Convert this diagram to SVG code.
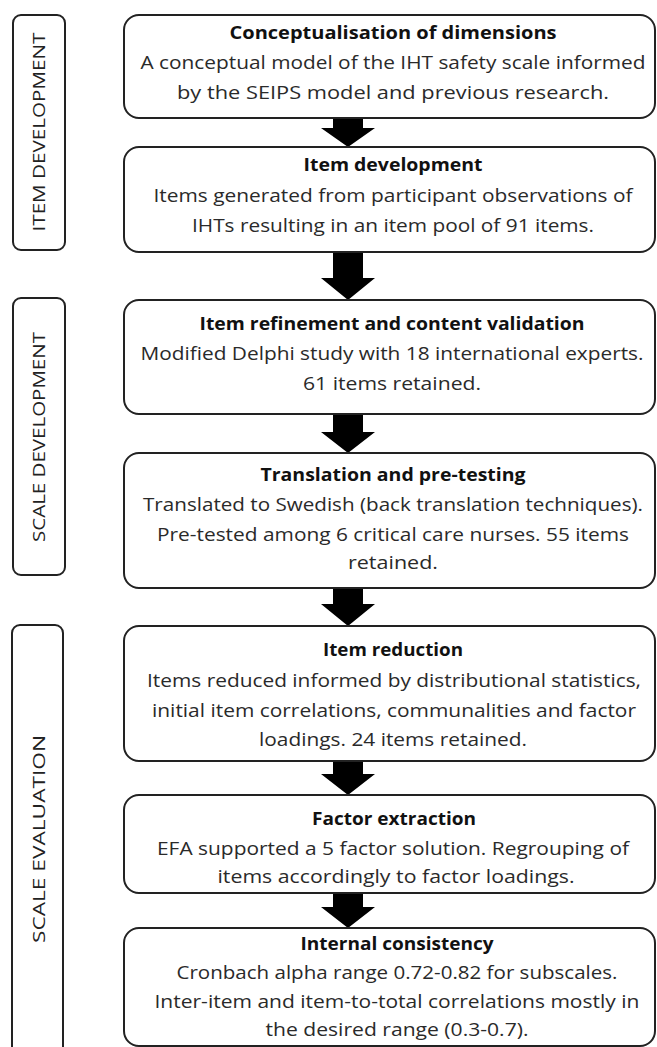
<svg xmlns="http://www.w3.org/2000/svg" width="657" height="1047" viewBox="0 0 657 1047">
<style>
.box{fill:#fff;stroke:#222;stroke-width:2}
.side{fill:#fff;stroke:#222;stroke-width:2}
.t{font-family:"Open Sans","Liberation Sans",sans-serif;font-size:18px;text-anchor:middle;fill:#2a2a2a}
.b{font-weight:bold;fill:#111}
.s{font-family:"Open Sans","Liberation Sans",sans-serif;font-size:16px;text-anchor:middle;fill:#222}
.arr{fill:#000}
</style>
<rect width="657" height="1047" fill="#fff"/>
<g id="phase-item-development">
<rect class="side" x="13" y="15" width="52" height="235" rx="8"/>
<text class="s" transform="translate(45,132) rotate(-90)" textLength="199" lengthAdjust="spacingAndGlyphs">ITEM DEVELOPMENT</text>
</g>
<g id="phase-scale-development">
<rect class="side" x="13" y="298" width="52" height="277" rx="8"/>
<text class="s" transform="translate(45,437) rotate(-90)" textLength="210" lengthAdjust="spacingAndGlyphs">SCALE DEVELOPMENT</text>
</g>
<g id="phase-scale-evaluation">
<rect class="side" x="12" y="625" width="51" height="440" rx="8"/>
<text class="s" transform="translate(45,839) rotate(-90)" textLength="208" lengthAdjust="spacingAndGlyphs">SCALE EVALUATION</text>
</g>
<g id="connectors">
<polygon class="arr" points="333,118 363,118 363,128 375,128 348,147 321,128 333,128"/>
<polygon class="arr" points="333,252 363,252 363,278 375,278 348,300 321,278 333,278"/>
<polygon class="arr" points="333,414 363,414 363,432 375,432 348,453 321,432 333,432"/>
<polygon class="arr" points="333,588 363,588 363,604 375,604 348,626 321,604 333,604"/>
<polygon class="arr" points="333,761 363,761 363,774 375,774 348,795 321,774 333,774"/>
<polygon class="arr" points="333,893 363,893 363,907 375,907 348,928 321,907 333,907"/>
</g>
<g id="conceptualisation">
<rect class="box" x="124" y="15" width="531" height="103" rx="15"/>
<text class="t b" x="393" y="39" textLength="327" lengthAdjust="spacingAndGlyphs">Conceptualisation of dimensions</text>
<text class="t" x="393" y="69" textLength="505" lengthAdjust="spacingAndGlyphs">A conceptual model of the IHT safety scale informed</text>
<text class="t" x="393" y="99" textLength="432" lengthAdjust="spacingAndGlyphs">by the SEIPS model and previous research.</text>
</g>
<g id="item-development">
<rect class="box" x="124" y="147" width="531" height="105" rx="15"/>
<text class="t b" x="393" y="171" textLength="179" lengthAdjust="spacingAndGlyphs">Item development</text>
<text class="t" x="393" y="202" textLength="479" lengthAdjust="spacingAndGlyphs">Items generated from participant observations of</text>
<text class="t" x="393" y="232" textLength="402" lengthAdjust="spacingAndGlyphs">IHTs resulting in an item pool of 91 items.</text>
</g>
<g id="item-refinement">
<rect class="box" x="124" y="300" width="531" height="114" rx="15"/>
<text class="t b" x="392" y="330" textLength="385" lengthAdjust="spacingAndGlyphs">Item refinement and content validation</text>
<text class="t" x="392" y="360" textLength="503" lengthAdjust="spacingAndGlyphs">Modified Delphi study with 18 international experts.</text>
<text class="t" x="392" y="390" textLength="178" lengthAdjust="spacingAndGlyphs">61 items retained.</text>
</g>
<g id="translation">
<rect class="box" x="124" y="453" width="531" height="135" rx="15"/>
<text class="t b" x="393" y="481" textLength="265" lengthAdjust="spacingAndGlyphs">Translation and pre-testing</text>
<text class="t" x="393" y="511" textLength="500" lengthAdjust="spacingAndGlyphs">Translated to Swedish (back translation techniques).</text>
<text class="t" x="393" y="541" textLength="472" lengthAdjust="spacingAndGlyphs">Pre-tested among 6 critical care nurses. 55 items</text>
<text class="t" x="393" y="569" textLength="90" lengthAdjust="spacingAndGlyphs">retained.</text>
</g>
<g id="item-reduction">
<rect class="box" x="124" y="626" width="531" height="135" rx="15"/>
<text class="t b" x="393" y="656" textLength="140" lengthAdjust="spacingAndGlyphs">Item reduction</text>
<text class="t" x="394" y="687" textLength="494" lengthAdjust="spacingAndGlyphs">Items reduced informed by distributional statistics,</text>
<text class="t" x="394" y="717" textLength="484" lengthAdjust="spacingAndGlyphs">initial item correlations, communalities and factor</text>
<text class="t" x="393" y="746" textLength="268" lengthAdjust="spacingAndGlyphs">loadings. 24 items retained.</text>
</g>
<g id="factor-extraction">
<rect class="box" x="124" y="795" width="531" height="98" rx="15"/>
<text class="t b" x="394" y="825" textLength="164" lengthAdjust="spacingAndGlyphs">Factor extraction</text>
<text class="t" x="393" y="855" textLength="472" lengthAdjust="spacingAndGlyphs">EFA supported a 5 factor solution. Regrouping of</text>
<text class="t" x="396" y="883" textLength="357" lengthAdjust="spacingAndGlyphs">items accordingly to factor loadings.</text>
</g>
<g id="internal-consistency">
<rect class="box" x="124" y="928" width="531" height="118" rx="15"/>
<text class="t b" x="397" y="950" textLength="193" lengthAdjust="spacingAndGlyphs">Internal consistency</text>
<text class="t" x="397" y="979" textLength="441" lengthAdjust="spacingAndGlyphs">Cronbach alpha range 0.72-0.82 for subscales.</text>
<text class="t" x="397" y="1008" textLength="485" lengthAdjust="spacingAndGlyphs">Inter-item and item-to-total correlations mostly in</text>
<text class="t" x="397" y="1036" textLength="263" lengthAdjust="spacingAndGlyphs">the desired range (0.3-0.7).</text>
</g>
</svg>
